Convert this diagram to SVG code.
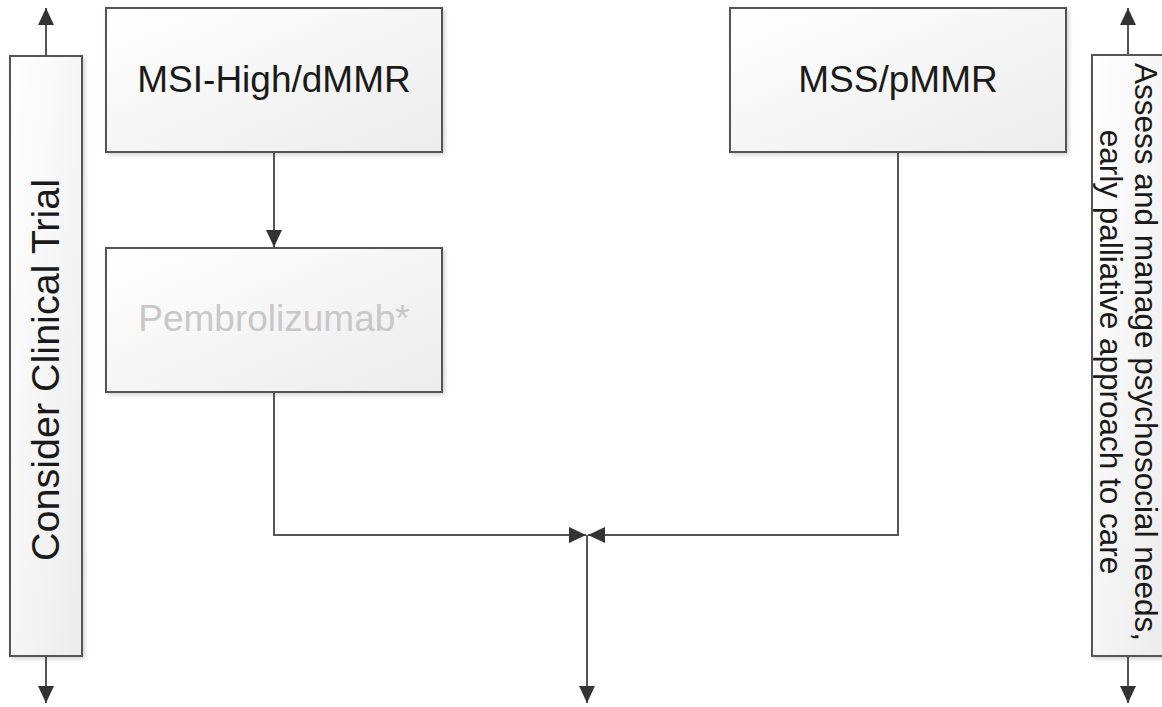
<svg xmlns="http://www.w3.org/2000/svg" width="1162" height="707" viewBox="0 0 1162 707">
<defs>
<linearGradient id="g" x1="0" y1="0" x2="1" y2="1">
<stop offset="0" stop-color="#ffffff"/>
<stop offset="1" stop-color="#ececec"/>
</linearGradient>
<filter id="sh" x="-10%" y="-10%" width="130%" height="130%">
<feGaussianBlur in="SourceAlpha" stdDeviation="2"/>
<feOffset dx="2" dy="2"/>
<feComponentTransfer><feFuncA type="linear" slope="0.18"/></feComponentTransfer>
<feMerge><feMergeNode/><feMergeNode in="SourceGraphic"/></feMerge>
</filter>
<marker id="ah" markerUnits="userSpaceOnUse" markerWidth="18" markerHeight="18" viewBox="0 0 18 18" refX="17" refY="9" orient="auto">
<path d="M0,1 L17,9 L0,17 Z" fill="#333333"/>
</marker>
</defs>
<style>
.box{fill:url(#g);stroke:#555555;stroke-width:2;filter:url(#sh)}
.t{font-family:"Liberation Sans",Arial,sans-serif;fill:#1a1a1a;text-anchor:middle}
.c{fill:none;stroke:#555555;stroke-width:2;marker-end:url(#ah)}
</style>
<g id="connectors">
<path class="c" d="M46,56 L46,8"/>
<path class="c" d="M46,656 L46,703"/>
<path class="c" d="M1128,55 L1128,8"/>
<path class="c" d="M1128,656 L1128,703"/>
<path class="c" d="M274,152 L274,247"/>
<path class="c" d="M274,392 L274,535 L586,535"/>
<path class="c" d="M898,152 L898,535 L588,535"/>
<path class="c" d="M587,535 L587,703"/>
</g>
<g id="node-clinical-trial">
<rect class="box" x="10" y="56" width="72" height="600"/>
<text class="t" transform="translate(46,370) rotate(-90)" x="0" y="13" font-size="39.5">Consider Clinical Trial</text>
</g>
<g id="node-msi-high">
<rect class="box" x="106" y="8" width="336" height="144"/>
<text class="t" x="274" y="92" font-size="37">MSI-High/dMMR</text>
</g>
<g id="node-pembrolizumab">
<rect class="box" x="106" y="248" width="336" height="144"/>
<text class="t" x="274" y="331" font-size="37" style="fill:#c8c8c8">Pembrolizumab*</text>
</g>
<g id="node-mss">
<rect class="box" x="730" y="8" width="336" height="144"/>
<text class="t" x="898" y="92" font-size="37">MSS/pMMR</text>
</g>
<g id="node-psychosocial">
<rect class="box" x="1092" y="55" width="74" height="601"/>
<text class="t" transform="translate(1117,352) rotate(90)" font-size="31.5"><tspan x="0" y="-18">Assess and manage psychosocial needs,</tspan><tspan x="0" y="17">early palliative approach to care</tspan></text>
</g>
</svg>
